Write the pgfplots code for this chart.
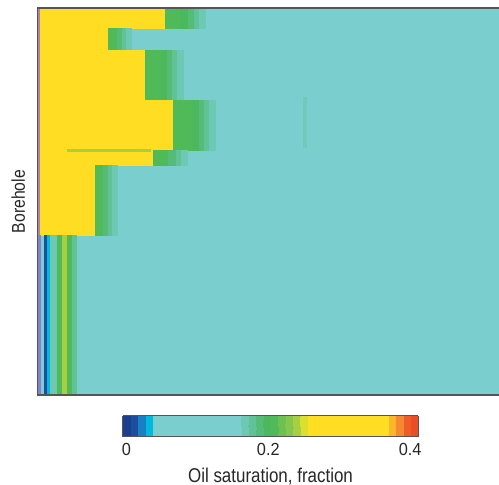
\documentclass[border=0pt]{standalone}
\usepackage{fontspec}
\setmainfont{Liberation Sans}[FakeStretch=0.85]
\newfontfamily\tickfont{Liberation Sans}[FakeStretch=0.93]
\usepackage{pgfplots}
\pgfplotsset{compat=1.18}
\definecolor{framegray}{RGB}{85,85,85}
\definecolor{stripTop}{RGB}{178,128,168}
\definecolor{stripBot}{RGB}{132,130,198}
\definecolor{faintgreen}{RGB}{100,196,160}
\pgfplotsset{
  colormap={oil}{
    rgb255=(28,62,142) rgb255=(28,78,158) rgb255=(25,128,198) rgb255=(0,185,222)
    rgb255=(122,206,206) rgb255=(122,206,206) rgb255=(122,206,206) rgb255=(122,206,206)
    rgb255=(122,206,206) rgb255=(122,206,206) rgb255=(122,206,206) rgb255=(122,206,206)
    rgb255=(122,206,206) rgb255=(122,206,206) rgb255=(122,206,206) rgb255=(122,206,206)
    rgb255=(110,201,180) rgb255=(96,194,150) rgb255=(84,188,118) rgb255=(76,184,94)
    rgb255=(80,186,88) rgb255=(108,193,82) rgb255=(132,199,76) rgb255=(168,207,66)
    rgb255=(218,223,48)
    rgb255=(254,221,34) rgb255=(254,221,34) rgb255=(254,221,34) rgb255=(254,221,34)
    rgb255=(254,221,34) rgb255=(254,221,34) rgb255=(254,221,34) rgb255=(254,221,34)
    rgb255=(254,221,34) rgb255=(254,221,34) rgb255=(254,221,34)
    rgb255=(253,182,40) rgb255=(246,136,50) rgb255=(240,92,40) rgb255=(236,78,36)
  }
}
\begin{document}
\begin{tikzpicture}
\begin{axis}[
  scale only axis, width=462bp, height=387bp,
  xmin=37, xmax=499, ymin=8, ymax=395, y dir=reverse,
  ticks=none, axis line style={draw=none},
  ylabel={Borehole},
  ylabel style={at={(axis description cs:-0.0260,0.5)}, anchor=base, inner sep=0pt, font=\fontsize{18.6}{22}\selectfont, text=black!85},
  colormap name=oil, colormap access=piecewise constant,
  point meta min=0, point meta max=0.4,
  colorbar horizontal,
  colorbar style={
    scale only axis, width=295.6bp, height=21bp,
    at={(parent axis.south)}, anchor=north, xshift=2.5bp, yshift=-12bp,
    xtick={0.005,0.197,0.389}, xticklabels={0,0.2,0.4}, major tick length=0pt,
    xticklabel style={font=\tickfont\fontsize{17.6}{20}\selectfont, text=black!85, anchor=base, yshift=-19.3bp, inner sep=0pt},
    xlabel={Oil saturation, fraction},
    xlabel style={at={(axis description cs:0.5,0)}, anchor=base, yshift=-45.7bp, inner sep=0pt, font=\fontsize{20}{24}\selectfont, text=black!85},
    axis line style={draw=framegray, line width=1bp},
  },
]
\addplot[patch, patch type=rectangle, shader=flat, point meta=\thisrow{c}, forget plot]
table[row sep=\\] {
x y c\\
37 8 0.1\\ 499 8 0.1\\ 499 395 0.1\\ 37 395 0.1\\
40 8 0.3\\ 165 8 0.3\\ 165 28 0.3\\ 40 28 0.3\\
165 8 0.2\\ 180 8 0.2\\ 180 28 0.2\\ 165 28 0.2\\
180 8 0.195\\ 188 8 0.195\\ 188 28 0.195\\ 180 28 0.195\\
188 8 0.185\\ 194 8 0.185\\ 194 28 0.185\\ 188 28 0.185\\
194 8 0.175\\ 199 8 0.175\\ 199 28 0.175\\ 194 28 0.175\\
199 8 0.165\\ 205 8 0.165\\ 205 28 0.165\\ 199 28 0.165\\
40 28 0.3\\ 108 28 0.3\\ 108 50 0.3\\ 40 50 0.3\\
108 28 0.2\\ 117 28 0.2\\ 117 50 0.2\\ 108 50 0.2\\
117 28 0.185\\ 122 28 0.185\\ 122 50 0.185\\ 117 50 0.185\\
122 28 0.175\\ 126 28 0.175\\ 126 50 0.175\\ 122 50 0.175\\
126 28 0.165\\ 131 28 0.165\\ 131 50 0.165\\ 126 50 0.165\\
40 50 0.3\\ 145 50 0.3\\ 145 100 0.3\\ 40 100 0.3\\
145 50 0.2\\ 161 50 0.2\\ 161 100 0.2\\ 145 100 0.2\\
161 50 0.195\\ 167 50 0.195\\ 167 100 0.195\\ 161 100 0.195\\
167 50 0.185\\ 172 50 0.185\\ 172 100 0.185\\ 167 100 0.185\\
172 50 0.175\\ 177 50 0.175\\ 177 100 0.175\\ 172 100 0.175\\
177 50 0.165\\ 183 50 0.165\\ 183 100 0.165\\ 177 100 0.165\\
40 100 0.3\\ 173 100 0.3\\ 173 150 0.3\\ 40 150 0.3\\
173 100 0.2\\ 192 100 0.2\\ 192 150 0.2\\ 173 150 0.2\\
192 100 0.195\\ 199 100 0.195\\ 199 150 0.195\\ 192 150 0.195\\
199 100 0.185\\ 204 100 0.185\\ 204 150 0.185\\ 199 150 0.185\\
204 100 0.175\\ 209 100 0.175\\ 209 150 0.175\\ 204 150 0.175\\
209 100 0.165\\ 215 100 0.165\\ 215 150 0.165\\ 209 150 0.165\\
40 150 0.3\\ 153 150 0.3\\ 153 165 0.3\\ 40 165 0.3\\
153 150 0.2\\ 168 150 0.2\\ 168 165 0.2\\ 153 165 0.2\\
168 150 0.185\\ 176 150 0.185\\ 176 165 0.185\\ 168 165 0.185\\
176 150 0.175\\ 181 150 0.175\\ 181 165 0.175\\ 176 165 0.175\\
181 150 0.165\\ 187 150 0.165\\ 187 165 0.165\\ 181 165 0.165\\
40 165 0.3\\ 95 165 0.3\\ 95 235 0.3\\ 40 235 0.3\\
95 165 0.2\\ 103 165 0.2\\ 103 235 0.2\\ 95 235 0.2\\
103 165 0.185\\ 108 165 0.185\\ 108 235 0.185\\ 103 235 0.185\\
108 165 0.175\\ 112 165 0.175\\ 112 235 0.175\\ 108 235 0.175\\
112 165 0.165\\ 117 165 0.165\\ 117 235 0.165\\ 112 235 0.165\\
44 235 0.015\\ 47 235 0.015\\ 47 395 0.015\\ 44 395 0.015\\
47 235 0.035\\ 50 235 0.035\\ 50 395 0.035\\ 47 395 0.035\\
50 235 0.165\\ 57 235 0.165\\ 57 395 0.165\\ 50 395 0.165\\
57 235 0.2\\ 62 235 0.2\\ 62 395 0.2\\ 57 395 0.2\\
62 235 0.235\\ 67 235 0.235\\ 67 395 0.235\\ 62 395 0.235\\
67 235 0.2\\ 72 235 0.2\\ 72 395 0.2\\ 67 395 0.2\\
72 235 0.175\\ 76 235 0.175\\ 76 395 0.175\\ 72 395 0.175\\
67 149.5 0.235\\ 150 149.5 0.235\\ 150 151 0.235\\ 67 151 0.235\\
};
\addplot[draw=none, fill=faintgreen, fill opacity=0.45, forget plot] coordinates {(303,97) (306.5,97) (306.5,148) (303,148)} -- cycle;
\addplot[draw=none, fill=stripTop, forget plot] coordinates {(37,8) (40,8) (40,235) (37,235)} -- cycle;
\addplot[draw=none, fill=stripBot, forget plot] coordinates {(37,235) (41,235) (41,395) (37,395)} -- cycle;
\draw[line width=1.6bp, framegray] (axis cs:499,8) -- (axis cs:37,8) -- (axis cs:37,395) -- (axis cs:499,395);
\coordinate (bl) at (axis cs:37,395);
\coordinate (tr) at (axis cs:499,8);
\end{axis}
\pgfresetboundingbox
\path[use as bounding box] ([xshift=-37bp,yshift=-90bp]bl) rectangle ([yshift=8bp]tr);
\end{tikzpicture}
\end{document}
